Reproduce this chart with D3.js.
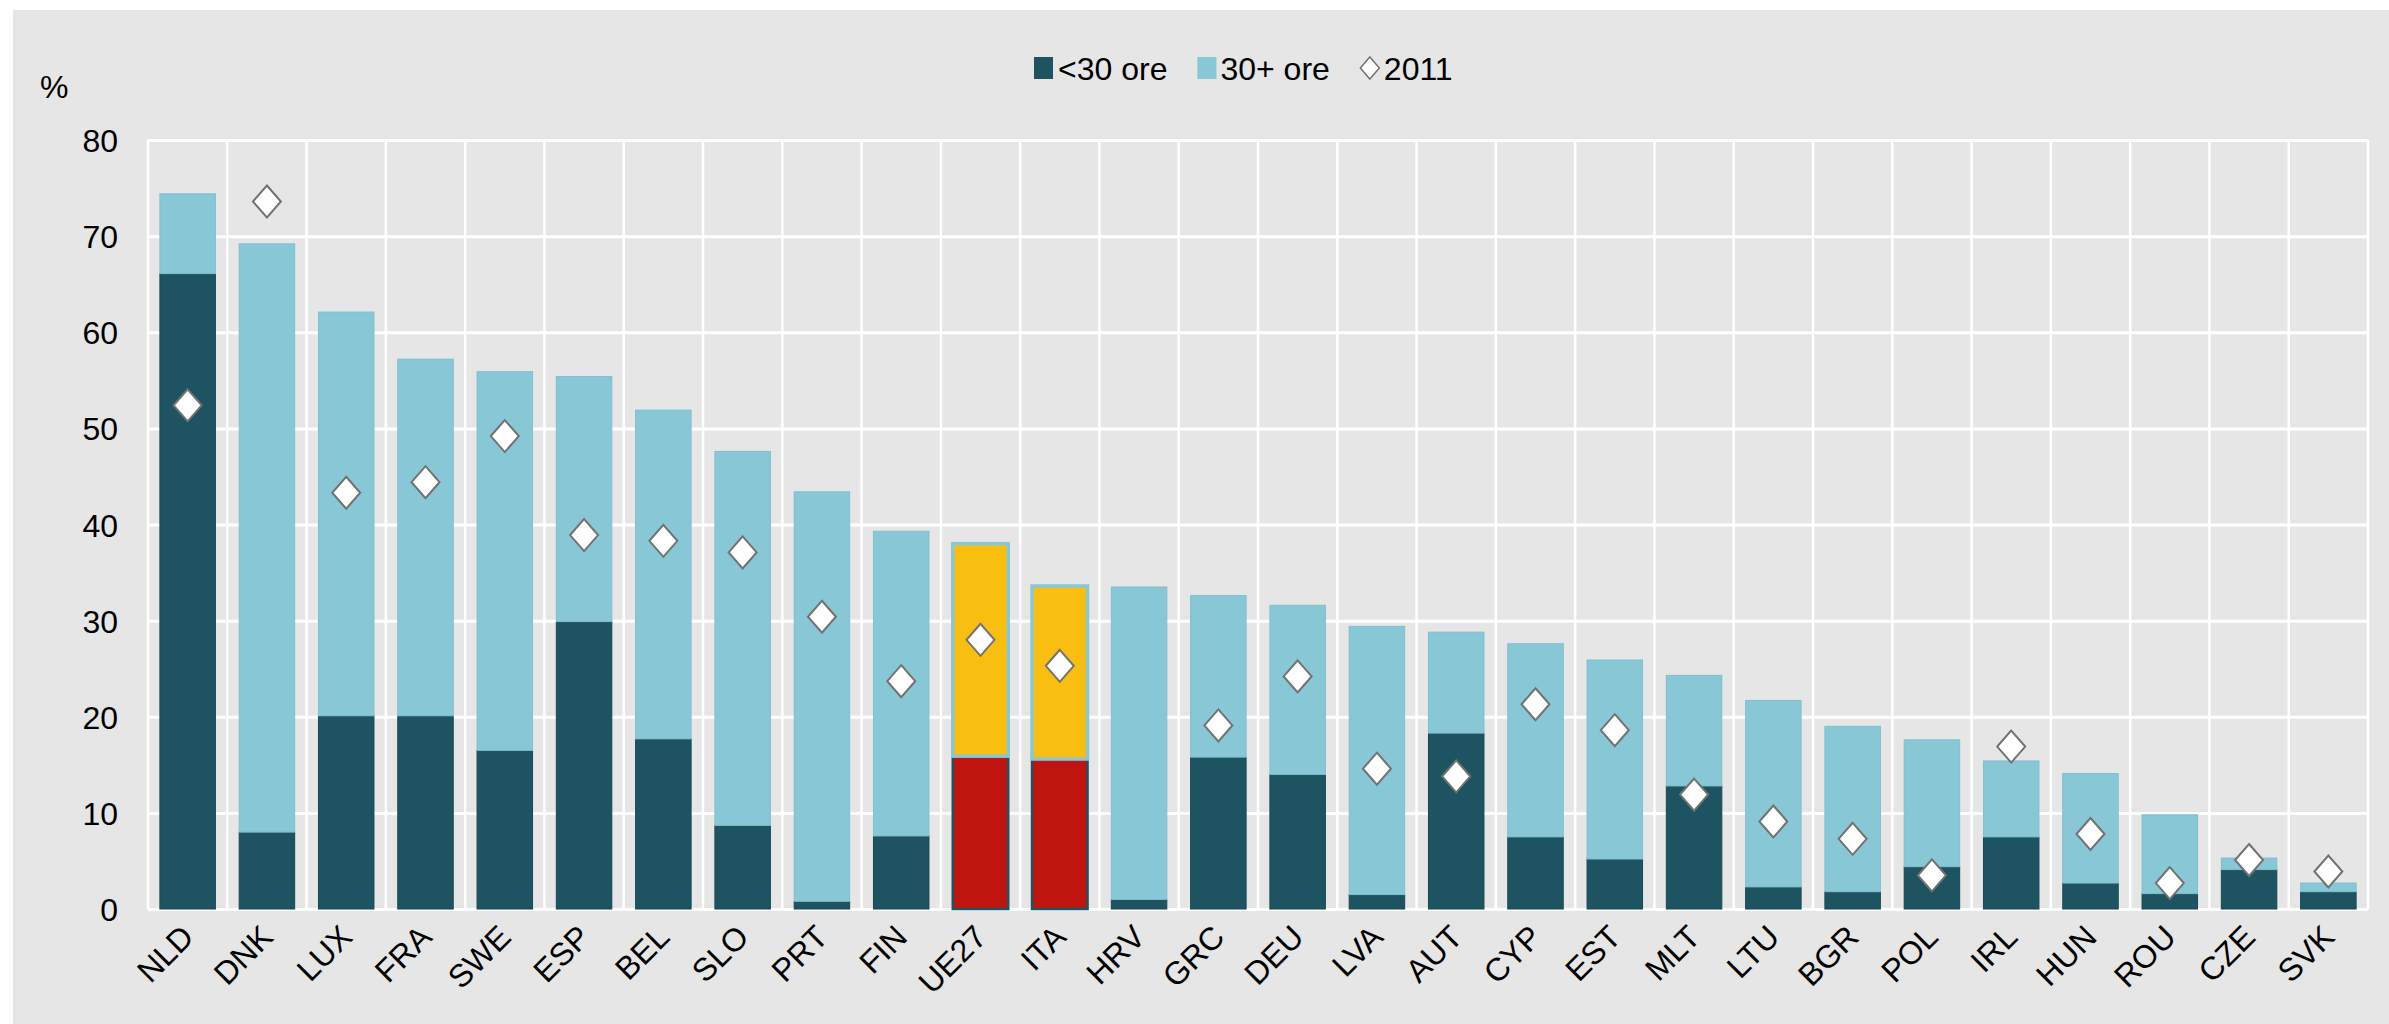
<!DOCTYPE html>
<html>
<head>
<meta charset="utf-8">
<script src="https://cdn.jsdelivr.net/npm/d3@7"></script>
<style>
  body { margin: 0; background: #fff; }
  text { font-family: "Liberation Sans", Arial, sans-serif; fill: #000; }
</style>
</head>
<body>
<div id="chart"></div>
<script>
var countries = ["NLD","DNK","LUX","FRA","SWE","ESP","BEL","SLO","PRT","FIN","UE27","ITA","HRV","GRC","DEU","LVA","AUT","CYP","EST","MLT","LTU","BGR","POL","IRL","HUN","ROU","CZE","SVK"];
// <30 ore (dark) and 30+ ore (light), stacked
var under30 = [66.1,8.0,20.1,20.1,16.5,29.9,17.7,8.7,0.8,7.6,15.9,15.6,1.0,15.8,14.0,1.5,18.3,7.5,5.2,12.8,2.3,1.8,4.4,7.5,2.7,1.6,4.1,1.8];
var over30  = [8.3,61.2,42.0,37.1,39.4,25.5,34.2,38.9,42.6,31.7,22.1,18.0,32.5,16.8,17.6,27.9,10.5,20.1,20.7,11.5,19.4,17.2,13.2,7.9,11.4,8.2,1.2,0.9];
var val2011 = [52.4,73.6,43.3,44.4,49.2,38.9,38.3,37.1,30.4,23.7,28.0,25.3,null,19.1,24.2,14.6,13.8,21.3,18.6,11.9,9.1,7.3,3.5,16.9,7.8,2.7,5.1,3.9];
var highlight = ["UE27","ITA"];
var yTicks = [0,10,20,30,40,50,60,70,80];

var svgwidth = 2389;
var svgheight = 1024;
var margin = {top: 140, right: 21, bottom: 115, left: 148};
var width = svgwidth - margin.left - margin.right;
var height = svgheight - margin.top - margin.bottom;

var colDark = "#1e5461", colLight = "#88c7d6", colRed = "#bf1410", colYellow = "#f9bf10";

var svg = d3.select("#chart").append("svg")
    .attr("width", svgwidth)
    .attr("height", svgheight);

svg.append("rect")
    .attr("x", 13).attr("y", 10)
    .attr("width", svgwidth - 13).attr("height", svgheight - 10)
    .attr("fill", "#e6e6e6");

var chart = svg.append("g").attr("transform", `translate(${margin.left}, ${margin.top})`);

var x = d3.scaleBand().domain(countries).range([0, width]).paddingInner(0.3).paddingOuter(0.15);
var y = d3.scaleLinear().domain([0, 80]).range([height, 0]);

// vertical grid at category boundaries
chart.append("g").selectAll("line")
    .data(d3.range(countries.length + 1))
    .enter().append("line")
    .attr("x1", function(i){ return i * x.step(); })
    .attr("x2", function(i){ return i * x.step(); })
    .attr("y1", 0).attr("y2", height)
    .attr("stroke", "#fff").attr("stroke-width", 2.5);

// y axis with horizontal grid
var yaxis = chart.append("g")
    .call(d3.axisLeft(y).tickValues(yTicks).tickSize(-width).tickPadding(30));
yaxis.select(".domain").remove();
yaxis.selectAll("line").attr("stroke", "#fff").attr("stroke-width", 3);
yaxis.selectAll("text").style("font-size", "32px").attr("dy", "0.36em");

var rows = countries.map(function(c, i){
    return {c: c, a: under30[i], b: over30[i], v: val2011[i], hl: highlight.indexOf(c) >= 0};
});

// bars
var bars = chart.append("g");
bars.selectAll(".under")
    .data(rows).enter().append("rect")
    .attr("x", function(d){ return x(d.c); })
    .attr("width", x.bandwidth())
    .attr("y", function(d){ return y(d.a); })
    .attr("height", function(d){ return y(0) - y(d.a); })
    .attr("fill", function(d){ return d.hl ? colRed : colDark; })
    .attr("stroke", function(d){ return d.hl ? colDark : "#184955"; })
    .attr("stroke-width", function(d){ return d.hl ? 2.5 : 1; });

bars.selectAll(".over")
    .data(rows).enter().append("rect")
    .attr("x", function(d){ return x(d.c); })
    .attr("width", x.bandwidth())
    .attr("y", function(d){ return y(d.a + d.b); })
    .attr("height", function(d){ return y(d.a) - y(d.a + d.b); })
    .attr("fill", function(d){ return d.hl ? colYellow : colLight; })
    .attr("stroke", function(d){ return d.hl ? colLight : "#80bfcf"; })
    .attr("stroke-width", function(d){ return d.hl ? 3.5 : 1; });

// 2011 diamonds
chart.append("g").selectAll("path")
    .data(rows.filter(function(d){ return d.v != null; }))
    .enter().append("path")
    .attr("d", "M0,-16L14,0L0,16L-14,0Z")
    .attr("transform", function(d){ return `translate(${x(d.c) + x.bandwidth() / 2}, ${y(d.v)})`; })
    .attr("fill", "#fff")
    .attr("stroke", "#727272")
    .attr("stroke-width", 2);

// x axis labels
var xaxis = chart.append("g")
    .attr("transform", `translate(0, ${height})`)
    .call(d3.axisBottom(x).tickSize(0));
xaxis.select(".domain").remove();
xaxis.selectAll("text")
    .attr("x", 0).attr("y", 0).attr("dy", null)
    .attr("text-anchor", "end")
    .attr("transform", "translate(8, 30) rotate(-45)")
    .style("font-size", "32px");

// % label
svg.append("text")
    .attr("x", 40).attr("y", 98)
    .style("font-size", "32px")
    .text("%");

// legend
var legend = svg.append("g");
var lx = 1034;
function legendText(label){
    var t = legend.append("text").attr("x", lx).attr("y", 80).style("font-size", "32px").text(label);
    lx += t.node().getComputedTextLength() + 30;
}
legend.append("rect").attr("x", lx).attr("y", 57).attr("width", 19).attr("height", 22).attr("fill", colDark);
lx += 24;
legendText("<30 ore");
legend.append("rect").attr("x", lx).attr("y", 57).attr("width", 19).attr("height", 22).attr("fill", colLight);
lx += 23;
legendText("30+ ore");
legend.append("path").attr("d", "M0,-11L9.5,0L0,11L-9.5,0Z")
    .attr("transform", `translate(${lx + 10}, 68)`)
    .attr("fill", "#fff").attr("stroke", "#727272").attr("stroke-width", 1.5);
lx += 24;
legendText("2011");
</script>
</body>
</html>
